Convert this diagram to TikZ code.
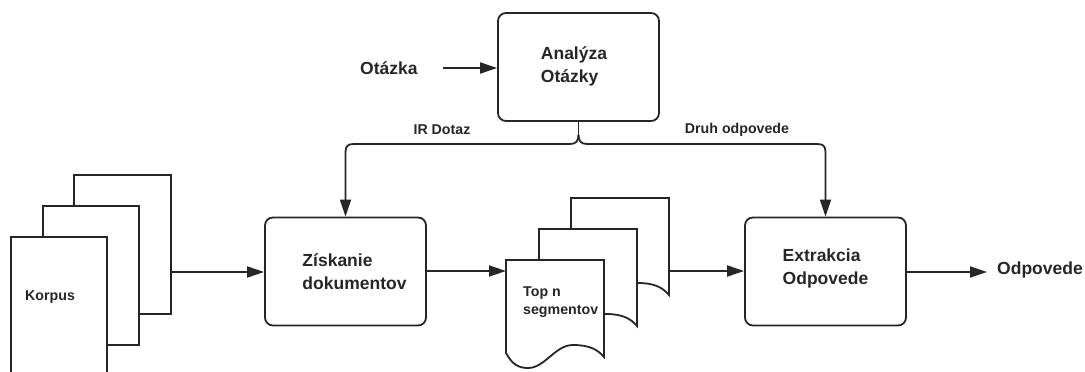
\documentclass[tikz,border=0pt]{standalone}
\usepackage{fontspec}
\setmainfont{Liberation Sans}
\usetikzlibrary{arrows.meta}
\begin{document}
\begin{tikzpicture}[x=1pt,y=-1pt,
  line/.style={line width=1.8pt, draw=black!85},
  arr/.style={line, -{Triangle[length=17pt,width=11pt]}},
  procbox/.style={line, rounded corners=8pt, minimum width=161pt, minimum height=108pt, inner sep=0pt},
  bigtxt/.style={inner sep=0pt, align=left, font=\bfseries\fontsize{17.5}{23}\selectfont, text=black!85},
  smalltxt/.style={inner sep=0pt, align=left, font=\bfseries\fontsize{14.2}{18}\selectfont, text=black!85},
  docpic/.pic={\draw[line, fill=white] (0,0) -- (98,0) -- (98,97)
     .. controls (92,90) and (84,85) .. (67,85)
     .. controls (49,85) and (39,108) .. (22,108)
     .. controls (12,108) and (6,104) .. (0,93) -- cycle;}
]
\useasboundingbox (0,0) rectangle (1085,372);
\clip (0,0) rectangle (1085,372);

% Korpus stack
\draw[line, fill=white] (74,175) rectangle (171,314);
\draw[line, fill=white] (43,206) rectangle (139,345);
\draw[line, fill=white] (11,237) rectangle (107,380);
\node[smalltxt, anchor=west] (korpus) at (25,297) {Korpus};
\coordinate (korpusout) at (171,272);

% Top n segmentov stack
\pic at (571,198) {docpic};
\pic at (539,229) {docpic};
\pic at (506,260) {docpic};
\node[smalltxt, anchor=west] (topn) at (523,302) {Top n\\segmentov};
\coordinate (topnin) at (506,271);
\coordinate (topnout) at (669,271);

% Boxes
\node[procbox, draw] (anal) at (578.5,67) {};
\node[bigtxt] (analtxt) at (574,66.5) {Analýza\\Otázky};
\node[procbox, draw] (zisk) at (345.5,271.5) {};
\node[bigtxt] (zisktxt) at (354.5,271.5) {Získanie\\dokumentov};
\node[procbox, draw] (extr) at (825.5,271.5) {};
\node[bigtxt] (extrtxt) at (825.5,268.5) {Extrakcia\\Odpovede};

% Outside texts
\node[bigtxt, anchor=west] (otazka) at (360,68) {Otázka};
\node[bigtxt, anchor=west] (odp) at (997,270) {Odpovede};
\node[smalltxt] (ir) at (442,130) {IR Dotaz};
\node[smalltxt] (druh) at (737,130) {Druh odpovede};

% Connectors
\draw[arr] ([xshift=25pt]otazka.east) -- (anal.west |- 0,68);
\coordinate (split) at (578.5,135);
\draw[line] (anal.south) -- (split);
\draw[arr] (split) .. controls (578.5,141) and (576,144) .. (570,144) -- (354,144)
  .. controls (348,144) and (345.5,146) .. (345.5,152) -- (zisk.north);
\draw[arr] (split) .. controls (578.5,141) and (581,144) .. (587,144) -- (817,144)
  .. controls (823,144) and (825.5,146) .. (825.5,152) -- (extr.north);
\draw[arr] (korpusout) -- (zisk.west |- korpusout);
\draw[arr] (zisk.east |- topnin) -- (topnin);
\draw[arr] (topnout) -- (extr.west |- topnout);
\draw[arr] (extr.east |- 0,272) -- ([xshift=-10pt]odp.west |- 0,272);
\end{tikzpicture}
\end{document}
